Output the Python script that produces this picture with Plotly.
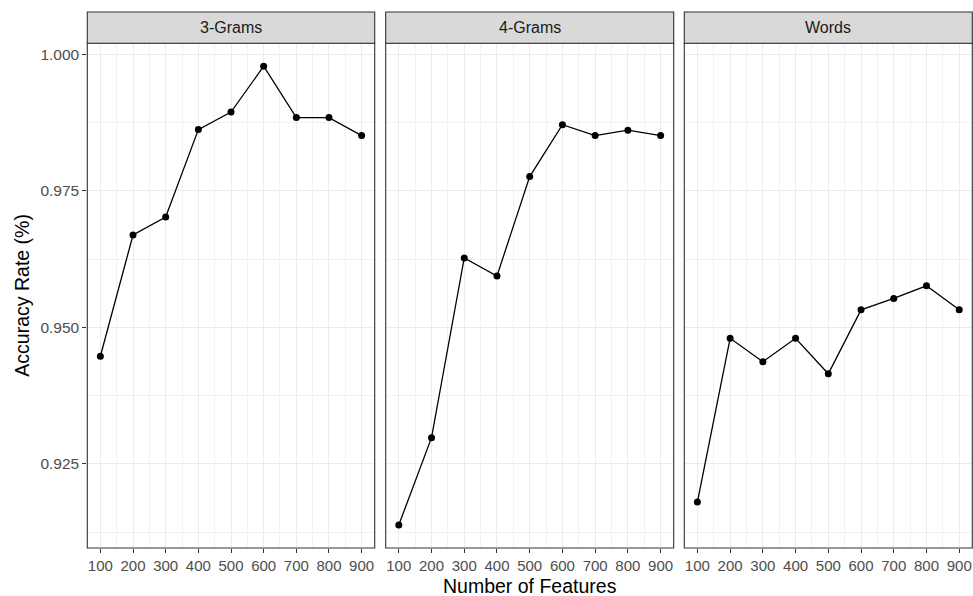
import plotly.graph_objects as go

features = [100, 200, 300, 400, 500, 600, 700, 800, 900]
panels = ["3-Grams", "4-Grams", "Words"]
acc_3grams = [0.9447, 0.9669, 0.9702, 0.9862, 0.9894, 0.9978, 0.9884, 0.9884, 0.9851]
acc_4grams = [0.9138, 0.9298, 0.9627, 0.9594, 0.9776, 0.9871, 0.9851, 0.9861, 0.9851]
acc_words = [0.9180, 0.9480, 0.9437, 0.9480, 0.9415, 0.9532, 0.9553, 0.9576, 0.9532]
y_ticks = [0.925, 0.950, 0.975, 1.000]
y_tick_labels = ["0.925", "0.950", "0.975", "1.000"]
x_title = "Number of Features"
y_title = "Accuracy Rate (%)"

series = [acc_3grams, acc_4grams, acc_words]

W, H = 973, 596
panel_px = [(87.3, 374.7), (385.7, 673.7), (684.3, 972.3)]
top_px, bottom_px, strip_top_px = 43.3, 548.0, 12.0
FONT = "Liberation Sans, Arial, sans-serif"

fig = go.Figure()
layout = dict(
    width=W, height=H, margin=dict(l=0, r=0, t=0, b=0),
    paper_bgcolor="white", plot_bgcolor="white", showlegend=False,
    font=dict(family=FONT),
)
ylo = min(min(s) for s in series)
yhi = max(max(s) for s in series)
pad = (yhi - ylo) * 0.05
yrange = [ylo - pad, yhi + pad]
xrange = [60, 940]

shapes = []
annotations = []
for i, (name, vals) in enumerate(zip(panels, series)):
    sfx = "" if i == 0 else str(i + 1)
    fig.add_trace(go.Scatter(
        x=features, y=vals, mode="lines+markers",
        line=dict(color="black", width=1.3),
        marker=dict(color="black", size=7),
        xaxis="x" + sfx, yaxis="y" + sfx, hoverinfo="x+y",
    ))
    x0, x1 = panel_px[i][0] / W, panel_px[i][1] / W
    layout["xaxis" + sfx] = dict(
        domain=[x0, x1], range=xrange, anchor="y" + sfx,
        tickvals=features, ticktext=[str(f) for f in features],
        ticks="outside", ticklen=4, tickcolor="#333333", tickwidth=1,
        tickfont=dict(size=15, color="#4D4D4D", family=FONT),
        showgrid=True, gridcolor="#EBEBEB", gridwidth=1.1,
        minor=dict(tickvals=[f + 50 for f in features[:-1]] + [50, 950],
                   showgrid=True, gridcolor="#F2F2F2", gridwidth=0.6, ticks=""),
        zeroline=False, showline=False, fixedrange=True,
    )
    layout["yaxis" + sfx] = dict(
        domain=[1 - bottom_px / H, 1 - top_px / H], range=yrange, anchor="x" + sfx,
        tickvals=y_ticks, ticktext=y_tick_labels,
        ticks="outside" if i == 0 else "", ticklen=4, tickcolor="#333333", tickwidth=1,
        showticklabels=(i == 0),
        tickfont=dict(size=15.5, color="#4D4D4D", family=FONT),
        showgrid=True, gridcolor="#EBEBEB", gridwidth=1.1,
        minor=dict(tickvals=[0.9125, 0.9375, 0.9625, 0.9875],
                   showgrid=True, gridcolor="#F2F2F2", gridwidth=0.6, ticks=""),
        zeroline=False, showline=False, fixedrange=True,
    )
    shapes.append(dict(type="rect", xref="paper", yref="paper",
                       x0=x0, x1=x1, y0=1 - bottom_px / H, y1=1 - top_px / H,
                       line=dict(color="#333333", width=1.1), fillcolor="rgba(0,0,0,0)",
                       layer="above"))
    shapes.append(dict(type="rect", xref="paper", yref="paper",
                       x0=x0, x1=x1, y0=1 - top_px / H, y1=1 - strip_top_px / H,
                       line=dict(color="#333333", width=1.1), fillcolor="#D9D9D9",
                       layer="above"))
    annotations.append(dict(xref="paper", yref="paper", x=(x0 + x1) / 2,
                            y=1 - (top_px + strip_top_px) / 2 / H,
                            text=name, showarrow=False,
                            font=dict(size=16, color="#1A1A1A", family=FONT),
                            xanchor="center", yanchor="middle"))

annotations.append(dict(xref="paper", yref="paper",
                        x=(panel_px[0][0] + panel_px[2][1]) / 2 / W, y=1 - 586 / H,
                        text=x_title, showarrow=False,
                        font=dict(size=19.5, color="black", family=FONT),
                        xanchor="center", yanchor="middle"))
annotations.append(dict(xref="paper", yref="paper",
                        x=22 / W, y=1 - (top_px + bottom_px) / 2 / H,
                        text=y_title, showarrow=False, textangle=-90,
                        font=dict(size=19.5, color="black", family=FONT),
                        xanchor="center", yanchor="middle"))

layout["shapes"] = shapes
layout["annotations"] = annotations
fig.update_layout(**layout)
fig.write_html("out.html")
